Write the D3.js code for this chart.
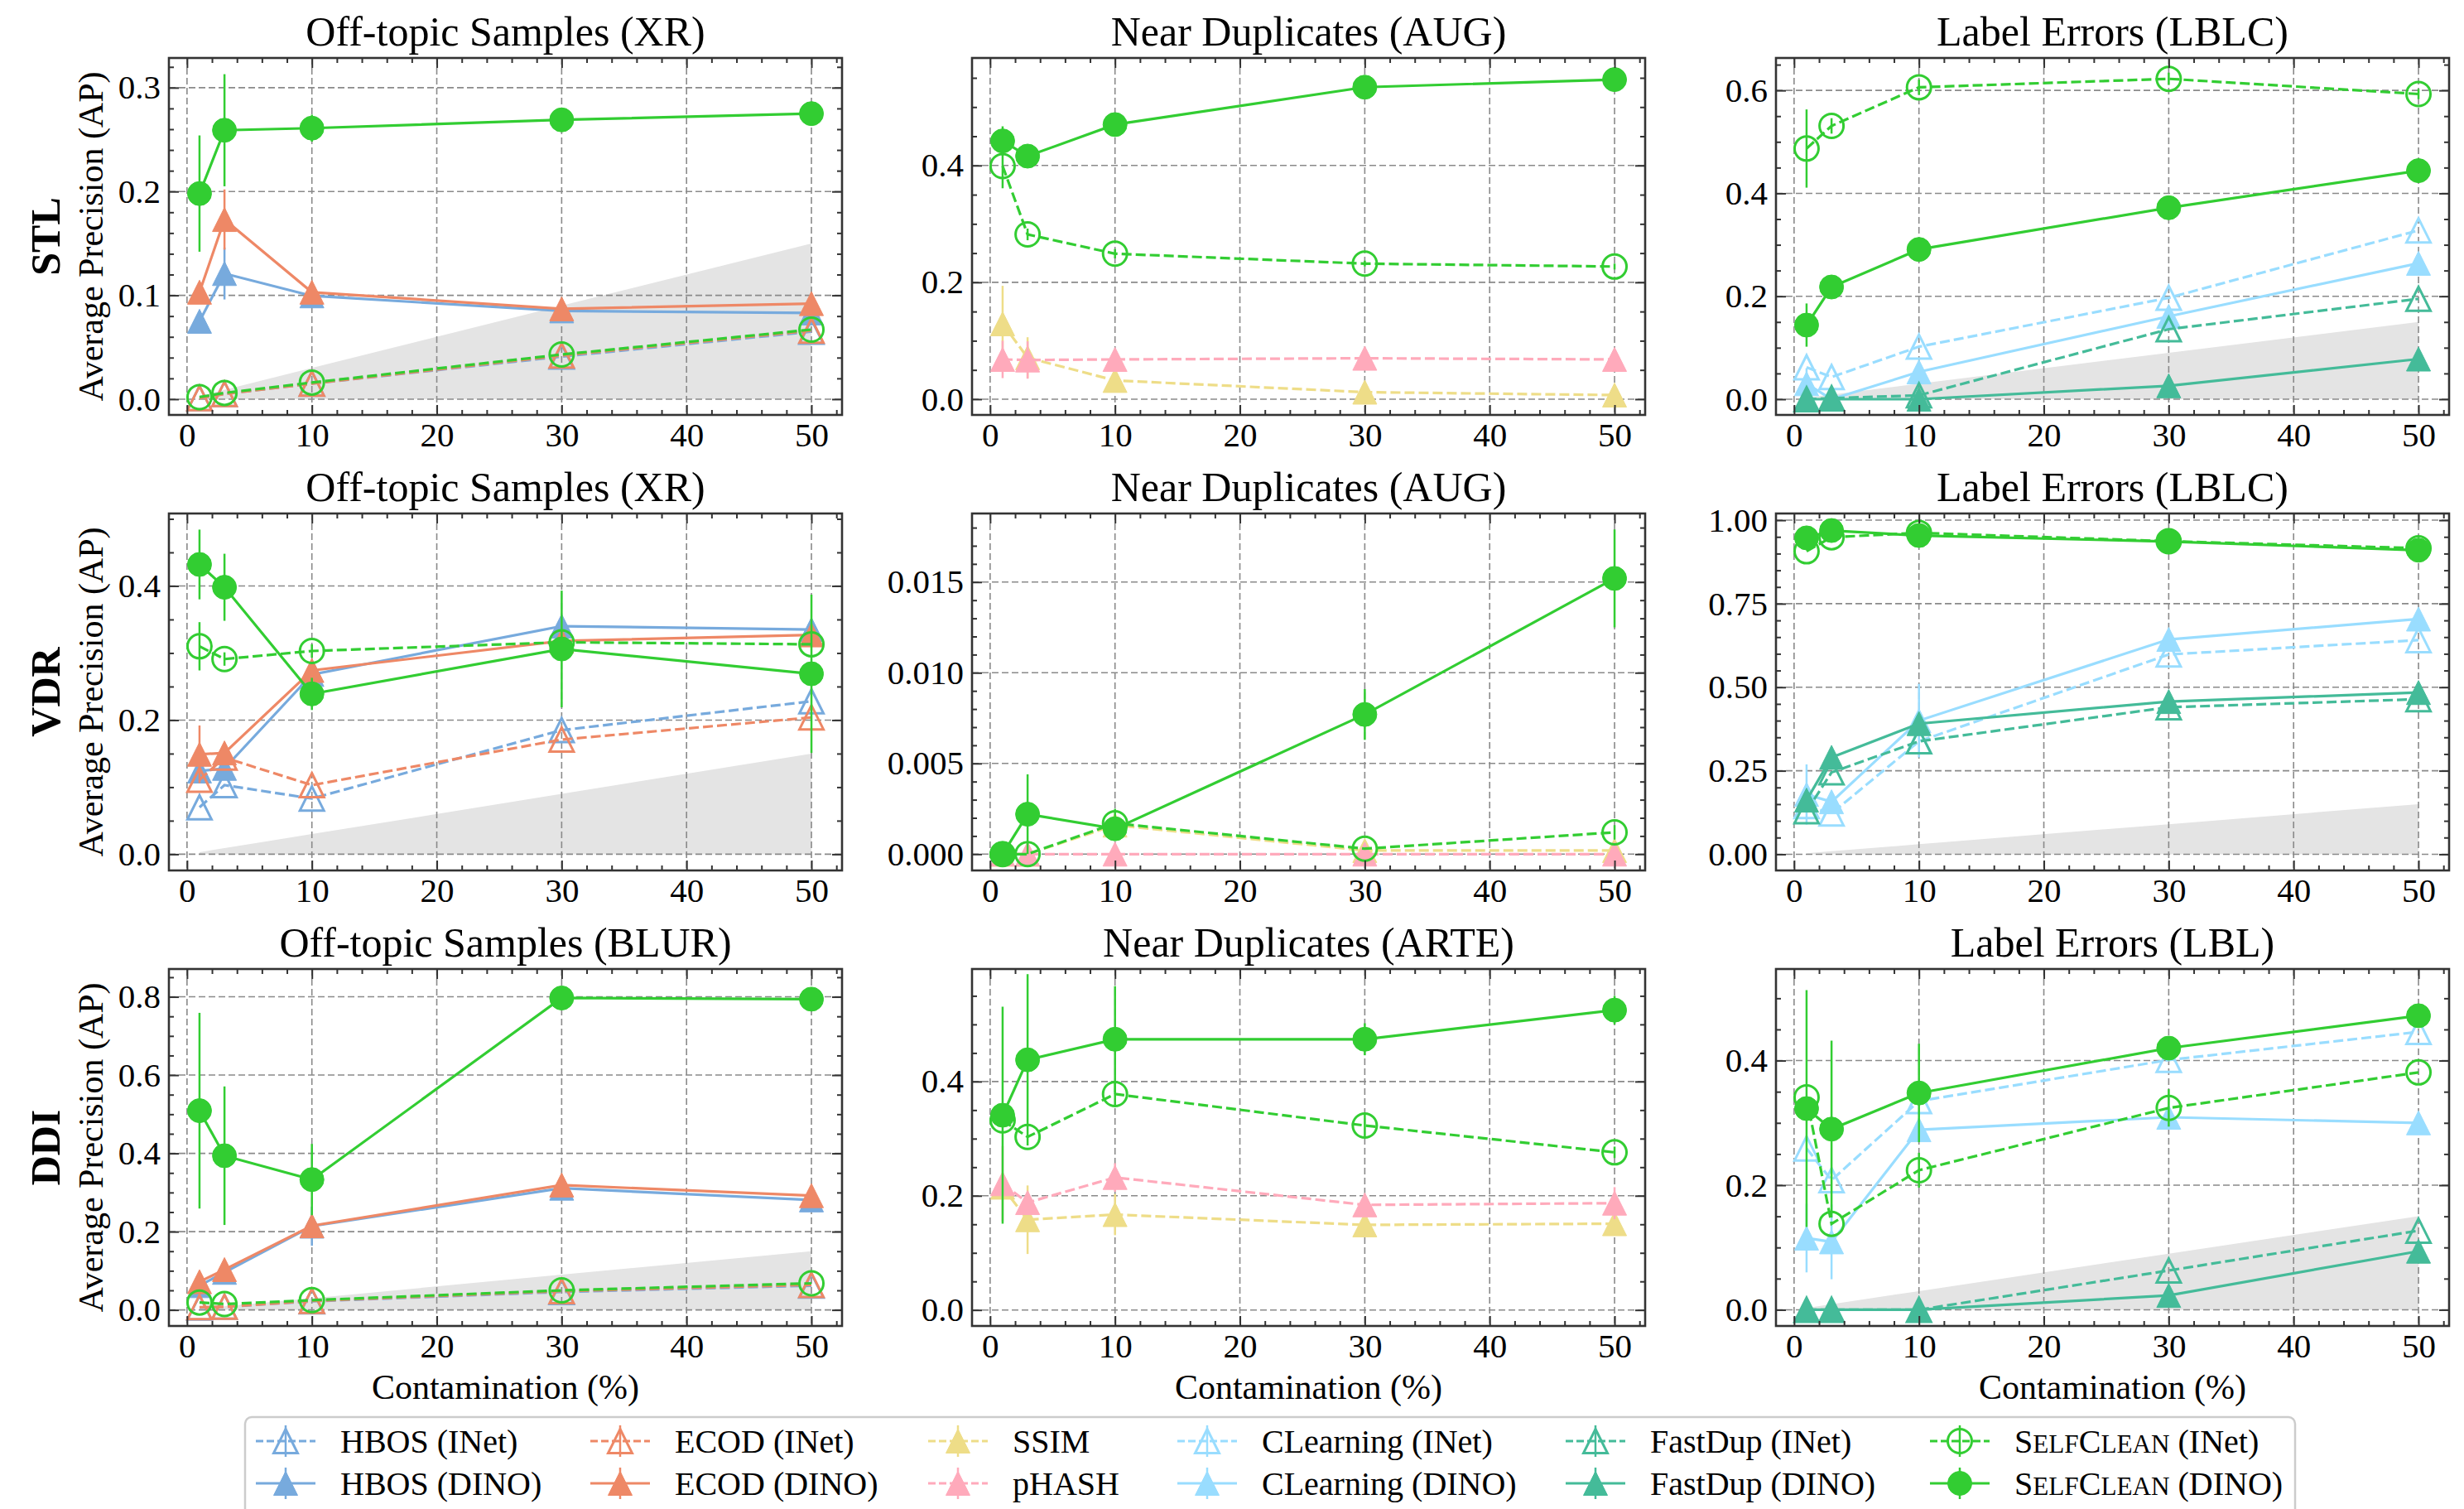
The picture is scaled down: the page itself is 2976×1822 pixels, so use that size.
<!DOCTYPE html>
<html>
<head>
<meta charset="utf-8">
<script src="https://cdn.jsdelivr.net/npm/d3@7/dist/d3.min.js"></script>
<style>
body { margin: 0; background: #fff; }
svg text { font-family: "Liberation Serif", "DejaVu Serif", serif; fill: #000; }
</style>
</head>
<body>
<script>
// ---- data ---------------------------------------------------------------
const contamination = [1, 3, 10, 30, 50];
const randomAP = [0.003, 0.009, 0.03, 0.09, 0.15];
const datasets = ["STL", "VDR", "DDI"];
const panelTitles = [
    ["Off-topic Samples (XR)", "Near Duplicates (AUG)", "Label Errors (LBLC)"],
    ["Off-topic Samples (XR)", "Near Duplicates (AUG)", "Label Errors (LBLC)"],
    ["Off-topic Samples (BLUR)", "Near Duplicates (ARTE)", "Label Errors (LBL)"]
];
const methodKeys = ["hbosINet", "hbosDINO", "ecodINet", "ecodDINO", "ssim", "phash",
                    "clINet", "clDINO", "fdINet", "fdDINO", "selfINet", "selfDINO"];
const methodNames = ["HBOS (INet)", "HBOS (DINO)", "ECOD (INet)", "ECOD (DINO)", "SSIM", "pHASH",
                     "CLearning (INet)", "CLearning (DINO)", "FastDup (INet)", "FastDup (DINO)",
                     "SelfClean (INet)", "SelfClean (DINO)"];

// STL - off-topic (XR)
const stlXR_hbosINet = [0.001, 0.005, 0.015, 0.041, 0.065];
const stlXR_hbosDINO = [0.075, 0.121, 0.0995, 0.085, 0.083];
const stlXR_hbosDINO_err = [0, 0.025, 0, 0, 0];
const stlXR_ecodINet = [0.001, 0.005, 0.015, 0.042, 0.066];
const stlXR_ecodDINO = [0.103, 0.173, 0.103, 0.087, 0.092];
const stlXR_ecodDINO_err = [0, 0.029, 0, 0, 0];
const stlXR_selfINet = [0.002, 0.006, 0.016, 0.043, 0.067];
const stlXR_selfDINO = [0.198, 0.259, 0.261, 0.269, 0.275];
const stlXR_selfDINO_err = [0.056, 0.054, 0.013, 0, 0];

// STL - near duplicates (AUG)
const stlAUG_ssim = [0.129, 0.071, 0.032, 0.012, 0.007];
const stlAUG_ssim_err = [0.065, 0.035, 0, 0, 0];
const stlAUG_phash = [0.068, 0.067, 0.068, 0.07, 0.068];
const stlAUG_phash_err = [0.032, 0.032, 0, 0, 0];
const stlAUG_selfINet = [0.399, 0.282, 0.249, 0.232, 0.227];
const stlAUG_selfINet_err = [0.038, 0.01, 0.008, 0.005, 0.005];
const stlAUG_selfDINO = [0.442, 0.416, 0.47, 0.534, 0.547];
const stlAUG_selfDINO_err = [0.025, 0, 0, 0, 0];

// STL - label errors (LBLC)
const stlLBLC_clINet = [0.062, 0.043, 0.102, 0.197, 0.328];
const stlLBLC_clDINO = [0.03, 0.0, 0.053, 0.161, 0.264];
const stlLBLC_clDINO_err = [0.03, 0, 0, 0, 0];
const stlLBLC_fdINet = [0.0, 0.002, 0.0075, 0.136, 0.195];
const stlLBLC_fdDINO = [0.0, 0.0, 0.0, 0.026, 0.078];
const stlLBLC_selfINet = [0.487, 0.531, 0.606, 0.6225, 0.593];
const stlLBLC_selfINet_err = [0.076, 0.015, 0.015, 0.012, 0.01];
const stlLBLC_selfDINO = [0.144, 0.218, 0.291, 0.372, 0.444];
const stlLBLC_selfDINO_err = [0.042, 0, 0, 0, 0];

// VDR - off-topic (XR)
const vdrXR_hbosINet = [0.07, 0.103, 0.083, 0.185, 0.228];
const vdrXR_hbosDINO = [0.124, 0.128, 0.268, 0.34, 0.335];
const vdrXR_ecodINet = [0.111, 0.144, 0.103, 0.171, 0.204];
const vdrXR_ecodDINO = [0.149, 0.151, 0.274, 0.318, 0.327];
const vdrXR_ecodDINO_err = [0.043, 0, 0, 0, 0];
const vdrXR_selfINet = [0.31, 0.291, 0.303, 0.316, 0.313];
const vdrXR_selfINet_err = [0.036, 0.01, 0.01, 0, 0];
const vdrXR_selfDINO = [0.432, 0.398, 0.239, 0.306, 0.269];
const vdrXR_selfDINO_err = [0.052, 0.05, 0.024, 0.087, 0.118];

// VDR - near duplicates (AUG)
const vdrAUG_ssim = [0, 0, 0.0016, 0.0002, 0.0002];
const vdrAUG_phash = [0, 0, 0, 0, 0];
const vdrAUG_selfINet = [0, 0, 0.0017, 0.0003, 0.0012];
const vdrAUG_selfINet_err = [0, 0, 0.0008, 0, 0.0004];
const vdrAUG_selfDINO = [0, 0.0022, 0.0014, 0.0077, 0.0152];
const vdrAUG_selfDINO_err = [0, 0.0022, 0, 0.0014, 0.0027];

// VDR - label errors (LBLC)
const vdrLBLC_clINet = [0.144, 0.122, 0.338, 0.598, 0.641];
const vdrLBLC_clDINO = [0.179, 0.157, 0.40, 0.643, 0.704];
const vdrLBLC_clDINO_err = [0.09, 0, 0.11, 0, 0];
const vdrLBLC_fdINet = [0.129, 0.245, 0.338, 0.44, 0.464];
const vdrLBLC_fdDINO = [0.162, 0.29, 0.391, 0.457, 0.484];
const vdrLBLC_selfINet = [0.907, 0.949, 0.962, 0.937, 0.916];
const vdrLBLC_selfDINO = [0.947, 0.969, 0.954, 0.936, 0.91];

// DDI - off-topic (BLUR)
const ddiBLUR_hbosINet = [0.006, 0.008, 0.022, 0.046, 0.062];
const ddiBLUR_hbosDINO = [0.062, 0.096, 0.214, 0.311, 0.281];
const ddiBLUR_hbosDINO_err = [0, 0, 0.05, 0, 0];
const ddiBLUR_ecodINet = [0.007, 0.008, 0.023, 0.048, 0.064];
const ddiBLUR_ecodDINO = [0.072, 0.103, 0.215, 0.319, 0.292];
const ddiBLUR_selfINet = [0.019, 0.015, 0.025, 0.05, 0.068];
const ddiBLUR_selfDINO = [0.509, 0.394, 0.333, 0.797, 0.794];
const ddiBLUR_selfDINO_err = [0.25, 0.177, 0.091, 0.02, 0];

// DDI - near duplicates (ARTE)
const ddiARTE_ssim = [0.215, 0.158, 0.167, 0.149, 0.151];
const ddiARTE_ssim_err = [0, 0.06, 0.036, 0, 0];
const ddiARTE_phash = [0.221, 0.188, 0.232, 0.184, 0.187];
const ddiARTE_phash_err = [0.066, 0, 0.025, 0, 0.028];
const ddiARTE_selfINet = [0.332, 0.303, 0.378, 0.323, 0.276];
const ddiARTE_selfINet_err = [0, 0, 0.022, 0.022, 0.01];
const ddiARTE_selfDINO = [0.341, 0.438, 0.474, 0.474, 0.525];
const ddiARTE_selfDINO_err = [0.19, 0.15, 0.093, 0.028, 0.025];

// DDI - label errors (LBL)
const ddiLBL_clINet = [0.259, 0.208, 0.335, 0.401, 0.446];
const ddiLBL_clDINO = [0.115, 0.109, 0.289, 0.309, 0.3];
const ddiLBL_clDINO_err = [0.055, 0.06, 0, 0, 0];
const ddiLBL_fdINet = [0, 0, 0, 0.063, 0.127];
const ddiLBL_fdDINO = [0, 0, 0, 0.023, 0.094];
const ddiLBL_selfINet = [0.341, 0.138, 0.224, 0.324, 0.381];
const ddiLBL_selfINet_err = [0, 0, 0.028, 0.03, 0];
const ddiLBL_selfDINO = [0.323, 0.29, 0.348, 0.42, 0.472];
const ddiLBL_selfDINO_err = [0.19, 0.142, 0.079, 0, 0];

// axis limits / ticks per panel (row by row)
const xTicks = [0, 10, 20, 30, 40, 50];
const yDomains = [
    [[-0.0152, 0.3286], [-0.027, 0.584], [-0.0306, 0.663]],
    [[-0.0242, 0.508], [-0.0009, 0.01878], [-0.0485, 1.02]],
    [[-0.041, 0.871], [-0.028, 0.597], [-0.026, 0.547]]
];
const yTicks = [
    [[0, 0.1, 0.2, 0.3], [0, 0.2, 0.4], [0, 0.2, 0.4, 0.6]],
    [[0, 0.2, 0.4], [0, 0.005, 0.01, 0.015], [0, 0.25, 0.5, 0.75, 1.0]],
    [[0, 0.2, 0.4, 0.6, 0.8], [0, 0.2, 0.4], [0, 0.2, 0.4]]
];
const yMinorStep = [[0.02, 0.05, 0.05], [0.05, 0.001, 0.05], [0.05, 0.05, 0.05]];
const yFormat = [[".1f", ".1f", ".1f"], [".1f", ".3f", ".2f"], [".1f", ".1f", ".1f"]];

const panelSeries = [
    [
        [["hbosINet", stlXR_hbosINet], ["hbosDINO", stlXR_hbosDINO, stlXR_hbosDINO_err],
         ["ecodINet", stlXR_ecodINet], ["ecodDINO", stlXR_ecodDINO, stlXR_ecodDINO_err],
         ["selfINet", stlXR_selfINet], ["selfDINO", stlXR_selfDINO, stlXR_selfDINO_err]],
        [["ssim", stlAUG_ssim, stlAUG_ssim_err], ["phash", stlAUG_phash, stlAUG_phash_err],
         ["selfINet", stlAUG_selfINet, stlAUG_selfINet_err], ["selfDINO", stlAUG_selfDINO, stlAUG_selfDINO_err]],
        [["clINet", stlLBLC_clINet], ["clDINO", stlLBLC_clDINO, stlLBLC_clDINO_err],
         ["fdINet", stlLBLC_fdINet], ["fdDINO", stlLBLC_fdDINO],
         ["selfINet", stlLBLC_selfINet, stlLBLC_selfINet_err], ["selfDINO", stlLBLC_selfDINO, stlLBLC_selfDINO_err]]
    ],
    [
        [["hbosINet", vdrXR_hbosINet], ["hbosDINO", vdrXR_hbosDINO],
         ["ecodINet", vdrXR_ecodINet], ["ecodDINO", vdrXR_ecodDINO, vdrXR_ecodDINO_err],
         ["selfINet", vdrXR_selfINet, vdrXR_selfINet_err], ["selfDINO", vdrXR_selfDINO, vdrXR_selfDINO_err]],
        [["ssim", vdrAUG_ssim], ["phash", vdrAUG_phash],
         ["selfINet", vdrAUG_selfINet, vdrAUG_selfINet_err], ["selfDINO", vdrAUG_selfDINO, vdrAUG_selfDINO_err]],
        [["clINet", vdrLBLC_clINet], ["clDINO", vdrLBLC_clDINO, vdrLBLC_clDINO_err],
         ["fdINet", vdrLBLC_fdINet], ["fdDINO", vdrLBLC_fdDINO],
         ["selfINet", vdrLBLC_selfINet], ["selfDINO", vdrLBLC_selfDINO]]
    ],
    [
        [["hbosINet", ddiBLUR_hbosINet], ["hbosDINO", ddiBLUR_hbosDINO, ddiBLUR_hbosDINO_err],
         ["ecodINet", ddiBLUR_ecodINet], ["ecodDINO", ddiBLUR_ecodDINO],
         ["selfINet", ddiBLUR_selfINet], ["selfDINO", ddiBLUR_selfDINO, ddiBLUR_selfDINO_err]],
        [["ssim", ddiARTE_ssim, ddiARTE_ssim_err], ["phash", ddiARTE_phash, ddiARTE_phash_err],
         ["selfINet", ddiARTE_selfINet, ddiARTE_selfINet_err], ["selfDINO", ddiARTE_selfDINO, ddiARTE_selfDINO_err]],
        [["clINet", ddiLBL_clINet], ["clDINO", ddiLBL_clDINO, ddiLBL_clDINO_err],
         ["fdINet", ddiLBL_fdINet], ["fdDINO", ddiLBL_fdDINO],
         ["selfINet", ddiLBL_selfINet, ddiLBL_selfINet_err], ["selfDINO", ddiLBL_selfDINO, ddiLBL_selfDINO_err]]
    ]
];

// ---- styles -------------------------------------------------------------
const styles = {
    hbosINet: { color: "#77AADD", dashed: true,  filled: false, shape: "tri" },
    hbosDINO: { color: "#77AADD", dashed: false, filled: true,  shape: "tri" },
    ecodINet: { color: "#EE8866", dashed: true,  filled: false, shape: "tri" },
    ecodDINO: { color: "#EE8866", dashed: false, filled: true,  shape: "tri" },
    ssim:     { color: "#EEDD88", dashed: true,  filled: true,  shape: "tri" },
    phash:    { color: "#FFAABB", dashed: true,  filled: true,  shape: "tri" },
    clINet:   { color: "#99DDFF", dashed: true,  filled: false, shape: "tri" },
    clDINO:   { color: "#99DDFF", dashed: false, filled: true,  shape: "tri" },
    fdINet:   { color: "#44BB99", dashed: true,  filled: false, shape: "tri" },
    fdDINO:   { color: "#44BB99", dashed: false, filled: true,  shape: "tri" },
    selfINet: { color: "#32CD32", dashed: true,  filled: false, shape: "circle" },
    selfDINO: { color: "#32CD32", dashed: false, filled: true,  shape: "circle" }
};

// ---- layout -------------------------------------------------------------
const width = 2976, height = 1822;
const panelLeft = [204, 1174, 2145], panelTop = [70, 620, 1170];
const pw = 813, ph = 431;
const xDomain = [-1.45, 52.45];
const ms = 14.5;          // marker half size
const lw = 3.2;           // line width
const dash = "12,5";
const frameColor = "#333";

const svg = d3.select("body").append("svg")
    .attr("width", width)
    .attr("height", height);

function markerPath(shape) {
    if (shape === "circle") {
        return d3.symbol().type(d3.symbolCircle).size(Math.PI * ms * ms)();
    }
    return "M0," + (-ms) + "L" + ms + "," + ms + "L" + (-ms) + "," + ms + "Z";
}

function drawMarker(sel, st) {
    sel.append("path")
        .attr("d", markerPath(st.shape))
        .attr("fill", st.filled ? st.color : "none")
        .attr("stroke", st.color)
        .attr("stroke-width", st.filled ? 1 : 3);
}

function labelText(text, name) {
    const m = name.match(/^SelfClean(.*)$/);
    if (!m) { text.text(name); return; }
    text.append("tspan").text("S");
    text.append("tspan").attr("font-size", "0.78em").text("ELF");
    text.append("tspan").text("C");
    text.append("tspan").attr("font-size", "0.78em").text("LEAN");
    text.append("tspan").text(m[1]);
}

function minorRange(domain, step, majors) {
    const out = [];
    const start = Math.ceil(domain[0] / step - 1e-9);
    for (let k = start; k * step <= domain[1] + 1e-12; k++) {
        const v = k * step;
        if (!majors.some(t => Math.abs(t - v) < step * 1e-3)) out.push(v);
    }
    return out;
}

const x = d3.scaleLinear().domain(xDomain).range([0, pw]);
const xMinor = minorRange(xDomain, 2, xTicks);

for (let r = 0; r < 3; r++) {
    for (let c = 0; c < 3; c++) {
        const g = svg.append("g")
            .attr("transform", "translate(" + panelLeft[c] + "," + panelTop[r] + ")");
        const y = d3.scaleLinear().domain(yDomains[r][c]).range([ph, 0]);
        const clipId = "clip" + r + c;
        g.append("clipPath").attr("id", clipId)
            .append("rect").attr("width", pw).attr("height", ph);

        const plot = g.append("g").attr("clip-path", "url(#" + clipId + ")");

        // random baseline (off-topic and label error panels)
        if (c !== 1) {
            plot.append("path")
                .datum(contamination.map((d, i) => [d, randomAP[i]]))
                .attr("fill", "#e4e4e4")
                .attr("d", d3.area()
                    .x(d => x(d[0]))
                    .y0(y(0))
                    .y1(d => y(d[1])));
        }

        // grid
        plot.append("g").selectAll("line")
            .data(xTicks).join("line")
            .attr("x1", d => x(d)).attr("x2", d => x(d))
            .attr("y1", 0).attr("y2", ph)
            .attr("stroke", "#8a8a8a").attr("stroke-width", 1.6)
            .attr("stroke-dasharray", "8,4");
        plot.append("g").selectAll("line")
            .data(yTicks[r][c]).join("line")
            .attr("y1", d => y(d)).attr("y2", d => y(d))
            .attr("x1", 0).attr("x2", pw)
            .attr("stroke", "#8a8a8a").attr("stroke-width", 1.6)
            .attr("stroke-dasharray", "8,4");

        // series
        panelSeries[r][c].forEach(function(s) {
            const st = styles[s[0]];
            const vals = s[1];
            const err = s[2] || vals.map(() => 0);
            const pts = contamination.map((d, i) => ({ x: d, y: vals[i], e: err[i] }));
            const sg = plot.append("g").attr("class", "series " + s[0]);

            sg.append("path")
                .datum(pts)
                .attr("fill", "none")
                .attr("stroke", st.color)
                .attr("stroke-width", lw)
                .attr("stroke-dasharray", st.dashed ? dash : null)
                .attr("d", d3.line().x(d => x(d.x)).y(d => y(d.y)));

            sg.selectAll(".err")
                .data(pts.filter(d => d.e > 0))
                .join("line")
                .attr("class", "err")
                .attr("x1", d => x(d.x)).attr("x2", d => x(d.x))
                .attr("y1", d => y(d.y - d.e)).attr("y2", d => y(d.y + d.e))
                .attr("stroke", st.color)
                .attr("stroke-width", 2.5);

            sg.selectAll(".mk")
                .data(pts)
                .join("g")
                .attr("class", "mk")
                .attr("transform", d => "translate(" + x(d.x) + "," + y(d.y) + ")")
                .each(function() { drawMarker(d3.select(this), st); });
        });

        // ticks (inward, all four sides)
        const yMinor = minorRange(yDomains[r][c], yMinorStep[r][c], yTicks[r][c]);
        const axes = [
            [d3.axisBottom(x).tickValues(xTicks).tickSize(-12).tickPadding(9), "translate(0," + ph + ")", true],
            [d3.axisBottom(x).tickValues(xMinor).tickSize(-6).tickFormat(""), "translate(0," + ph + ")", false],
            [d3.axisTop(x).tickValues(xTicks).tickSize(-12).tickFormat(""), null, false],
            [d3.axisTop(x).tickValues(xMinor).tickSize(-6).tickFormat(""), null, false],
            [d3.axisLeft(y).tickValues(yTicks[r][c]).tickSize(-12).tickPadding(10)
                .tickFormat(d3.format(yFormat[r][c])), null, true],
            [d3.axisLeft(y).tickValues(yMinor).tickSize(-6).tickFormat(""), null, false],
            [d3.axisRight(y).tickValues(yTicks[r][c]).tickSize(-12).tickFormat(""), "translate(" + pw + ",0)", false],
            [d3.axisRight(y).tickValues(yMinor).tickSize(-6).tickFormat(""), "translate(" + pw + ",0)", false]
        ];
        axes.forEach(function(a) {
            const ag = g.append("g").attr("transform", a[1]).call(a[0]);
            ag.select(".domain").remove();
            ag.selectAll("line").attr("stroke", frameColor).attr("stroke-width", 2);
            ag.selectAll("text")
                .attr("font-family", null)
                .attr("fill", "#000")
                .style("font-size", "41px");
        });

        // frame
        g.append("rect")
            .attr("width", pw).attr("height", ph)
            .attr("fill", "none")
            .attr("stroke", frameColor)
            .attr("stroke-width", 2.6);

        // title
        g.append("text")
            .attr("x", pw / 2).attr("y", -15)
            .attr("text-anchor", "middle")
            .style("font-size", "50px")
            .text(panelTitles[r][c]);

        if (c === 0) {
            g.append("text")
                .attr("transform", "translate(" + (124 - panelLeft[0]) + "," + (ph / 2) + ") rotate(-90)")
                .attr("text-anchor", "middle")
                .style("font-size", "42px")
                .text("Average Precision (AP)");
            g.append("text")
                .attr("transform", "translate(" + (72 - panelLeft[0]) + "," + (ph / 2) + ") rotate(-90)")
                .attr("text-anchor", "middle")
                .style("font-size", "50px")
                .style("font-weight", "bold")
                .text(datasets[r]);
        }
        if (r === 2) {
            g.append("text")
                .attr("x", pw / 2).attr("y", ph + 88)
                .attr("text-anchor", "middle")
                .style("font-size", "42px")
                .text("Contamination (%)");
        }
    }
}

// ---- legend -------------------------------------------------------------
const legendColX = [309, 713, 1121, 1422, 1891, 2331];
const legendRowY = [1740, 1791];

svg.append("rect")
    .attr("x", 296).attr("y", 1711)
    .attr("width", 2476).attr("height", 120)
    .attr("rx", 8)
    .attr("fill", "#fff")
    .attr("stroke", "#cccccc")
    .attr("stroke-width", 2.5);

methodKeys.forEach(function(key, i) {
    const st = styles[key];
    const col = Math.floor(i / 2), row = i % 2;
    const lg = svg.append("g")
        .attr("transform", "translate(" + legendColX[col] + "," + legendRowY[row] + ")");
    lg.append("line")
        .attr("x1", 0).attr("x2", 72)
        .attr("stroke", st.color).attr("stroke-width", lw)
        .attr("stroke-dasharray", st.dashed ? "9,4" : null);
    lg.append("line")
        .attr("x1", 36).attr("x2", 36)
        .attr("y1", -19).attr("y2", 19)
        .attr("stroke", st.color).attr("stroke-width", 2.5);
    drawMarker(lg.append("g").attr("transform", "translate(36,0)"), st);
    const t = lg.append("text")
        .attr("x", 102).attr("y", 14)
        .style("font-size", "40px");
    labelText(t, methodNames[i]);
});
</script>
</body>
</html>
